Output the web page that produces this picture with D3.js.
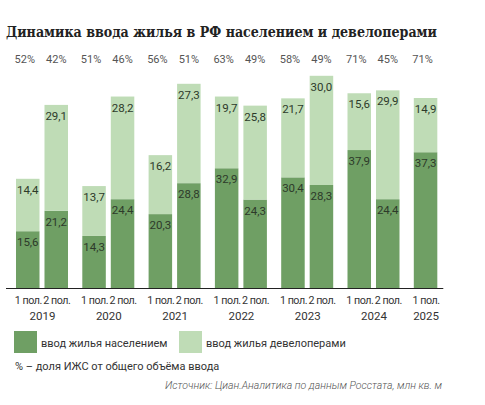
<!DOCTYPE html>
<html>
<head>
<meta charset="utf-8">
<script src="https://cdn.jsdelivr.net/npm/d3@7"></script>
<style>
  body { margin: 0; background: #fff; }
  svg { display: block; font-family: Roboto, "Noto Sans", sans-serif; }
</style>
</head>
<body>
<svg id="chart" width="485" height="405"></svg>
<script>
// data
const years = ["2019", "2019", "2020", "2020", "2021", "2021", "2022", "2022", "2023", "2023", "2024", "2024", "2025"];
const halves = ["1 пол.", "2 пол.", "1 пол.", "2 пол.", "1 пол.", "2 пол.", "1 пол.", "2 пол.", "1 пол.", "2 пол.", "1 пол.", "2 пол.", "1 пол."];
const population = [15.6, 21.2, 14.3, 24.4, 20.3, 28.8, 32.9, 24.3, 30.4, 28.3, 37.9, 24.4, 37.3];
const developers = [14.4, 29.1, 13.7, 28.2, 16.2, 27.3, 19.7, 25.8, 21.7, 30.0, 15.6, 29.9, 14.9];
const shares = [52, 42, 51, 46, 56, 51, 63, 49, 58, 49, 71, 45, 71];
const seriesNames = ["ввод жилья населением", "ввод жилья девелоперами"];

const colors = { pop: "#6f9f64", dev: "#bfdcb6" };
const fmt = v => d3.format(".1f")(v).replace(".", ",");

const svg = d3.select("#chart");
const baseY = 288;

const yearList = Array.from(new Set(years));
const xGroup = d3.scaleBand()
  .domain(yearList)
  .range([16, 16 + 66.3 * 6 + 52])
  .paddingInner(14.3 / 66.3)
  .paddingOuter(0);

const xHalf = d3.scaleBand()
  .domain(["1 пол.", "2 пол."])
  .range([0, xGroup.bandwidth()])
  .paddingInner(0.175);

const y = d3.scaleLinear().domain([0, 60]).range([baseY, baseY - 60 * 3.64]);

const rows = years.map((yr, i) => ({
  key: yr + " " + halves[i],
  year: yr,
  half: halves[i],
  pop: population[i],
  dev: developers[i],
  share: shares[i],
  x: xGroup(yr) + xHalf(halves[i])
}));
const bw = xHalf.bandwidth();

// title
svg.append("text")
  .attr("x", 6)
  .attr("y", 37)
  .attr("font-family", "'DejaVu Serif Condensed', 'DejaVu Serif', serif")
  .attr("font-weight", "bold")
  .attr("font-size", 15.5)
  .attr("fill", "#222")
  .attr("textLength", 431)
  .attr("lengthAdjust", "spacingAndGlyphs")
  .text("Динамика ввода жилья в РФ населением и девелоперами");

// bars
const g = svg.append("g");
g.selectAll("rect.pop")
  .data(rows)
  .join("rect")
  .attr("class", "pop")
  .attr("x", d => d.x)
  .attr("width", bw)
  .attr("y", d => y(d.pop))
  .attr("height", d => baseY - y(d.pop))
  .attr("fill", colors.pop);

g.selectAll("rect.dev")
  .data(rows)
  .join("rect")
  .attr("class", "dev")
  .attr("x", d => d.x)
  .attr("width", bw)
  .attr("y", d => y(d.pop + d.dev))
  .attr("height", d => y(d.pop) - y(d.pop + d.dev))
  .attr("fill", colors.dev);

// value labels
g.selectAll("text.vpop")
  .data(rows)
  .join("text")
  .attr("class", "vpop")
  .attr("x", d => d.x + bw / 2)
  .attr("y", d => y(d.pop) + 15)
  .attr("text-anchor", "middle")
  .attr("font-size", 11.5)
  .attr("fill", "#2d3a2a")
  .text(d => fmt(d.pop));

g.selectAll("text.vdev")
  .data(rows)
  .join("text")
  .attr("class", "vdev")
  .attr("x", d => d.x + bw / 2)
  .attr("y", d => y(d.pop + d.dev) + 15)
  .attr("text-anchor", "middle")
  .attr("font-size", 11.5)
  .attr("fill", "#2d3a2a")
  .text(d => fmt(d.dev));

// share labels on top
g.selectAll("text.share")
  .data(rows)
  .join("text")
  .attr("class", "share")
  .attr("x", d => d.x + bw / 2 - (d.half === "1 пол." ? 3 : 0))
  .attr("y", 63)
  .attr("text-anchor", "middle")
  .attr("font-size", 11)
  .attr("fill", "#555")
  .text(d => d.share + "%");

// baseline
const lastX = rows[rows.length - 1].x + bw;
svg.append("line")
  .attr("x1", xGroup.range()[0] - 10)
  .attr("x2", lastX + 6)
  .attr("y1", baseY + 0.5)
  .attr("y2", baseY + 0.5)
  .attr("stroke", "#222")
  .attr("stroke-width", 1);

// half-year axis
const xPeriod = d3.scaleOrdinal()
  .domain(rows.map(d => d.key))
  .range(rows.map(d => d.x + bw / 2));

const periodAxis = svg.append("g")
  .attr("transform", `translate(0,${baseY})`)
  .call(d3.axisBottom(xPeriod).tickSize(0).tickPadding(8).tickFormat(k => k.split(" ").slice(1).join(" ")));
periodAxis.select(".domain").remove();
periodAxis.selectAll("text")
  .attr("font-family", "Roboto, sans-serif")
  .attr("font-size", 10.7)
  .attr("letter-spacing", -0.45)
  .attr("fill", "#333");

// year axis
const yearCenters = yearList.map(yr => {
  const rs = rows.filter(r => r.year === yr);
  return (rs[0].x + rs[rs.length - 1].x + bw) / 2;
});
const xYear = d3.scaleOrdinal().domain(yearList).range(yearCenters);
const yearAxis = svg.append("g")
  .attr("transform", `translate(0,${baseY + 15})`)
  .call(d3.axisBottom(xYear).tickSize(0).tickPadding(9));
yearAxis.select(".domain").remove();
yearAxis.selectAll("text")
  .attr("font-family", "Roboto, sans-serif")
  .attr("font-size", 11.5)
  .attr("fill", "#333");

// legend
const legend = svg.append("g");
const legendX = [14, 179];
[colors.pop, colors.dev].forEach((c, i) => {
  legend.append("rect")
    .attr("x", legendX[i])
    .attr("y", 331)
    .attr("width", 23)
    .attr("height", 22)
    .attr("fill", c);
  legend.append("text")
    .attr("x", legendX[i] + 27)
    .attr("y", 346.5)
    .attr("font-size", 11)
    .attr("fill", "#333")
    .text(seriesNames[i]);
});

// note
svg.append("text")
  .attr("x", 15)
  .attr("y", 370)
  .attr("font-size", 11)
  .attr("fill", "#333")
  .text("% – доля ИЖС от общего объёма ввода");

// source
svg.append("text")
  .attr("x", 442)
  .attr("y", 389)
  .attr("text-anchor", "end")
  .attr("font-size", 11)
  .attr("font-style", "italic")
  .attr("font-weight", 300)
  .attr("fill", "#555")
  .attr("textLength", 277)
  .attr("lengthAdjust", "spacingAndGlyphs")
  .text("Источник: Циан.Аналитика по данным Росстата, млн кв. м");
</script>
</body>
</html>
